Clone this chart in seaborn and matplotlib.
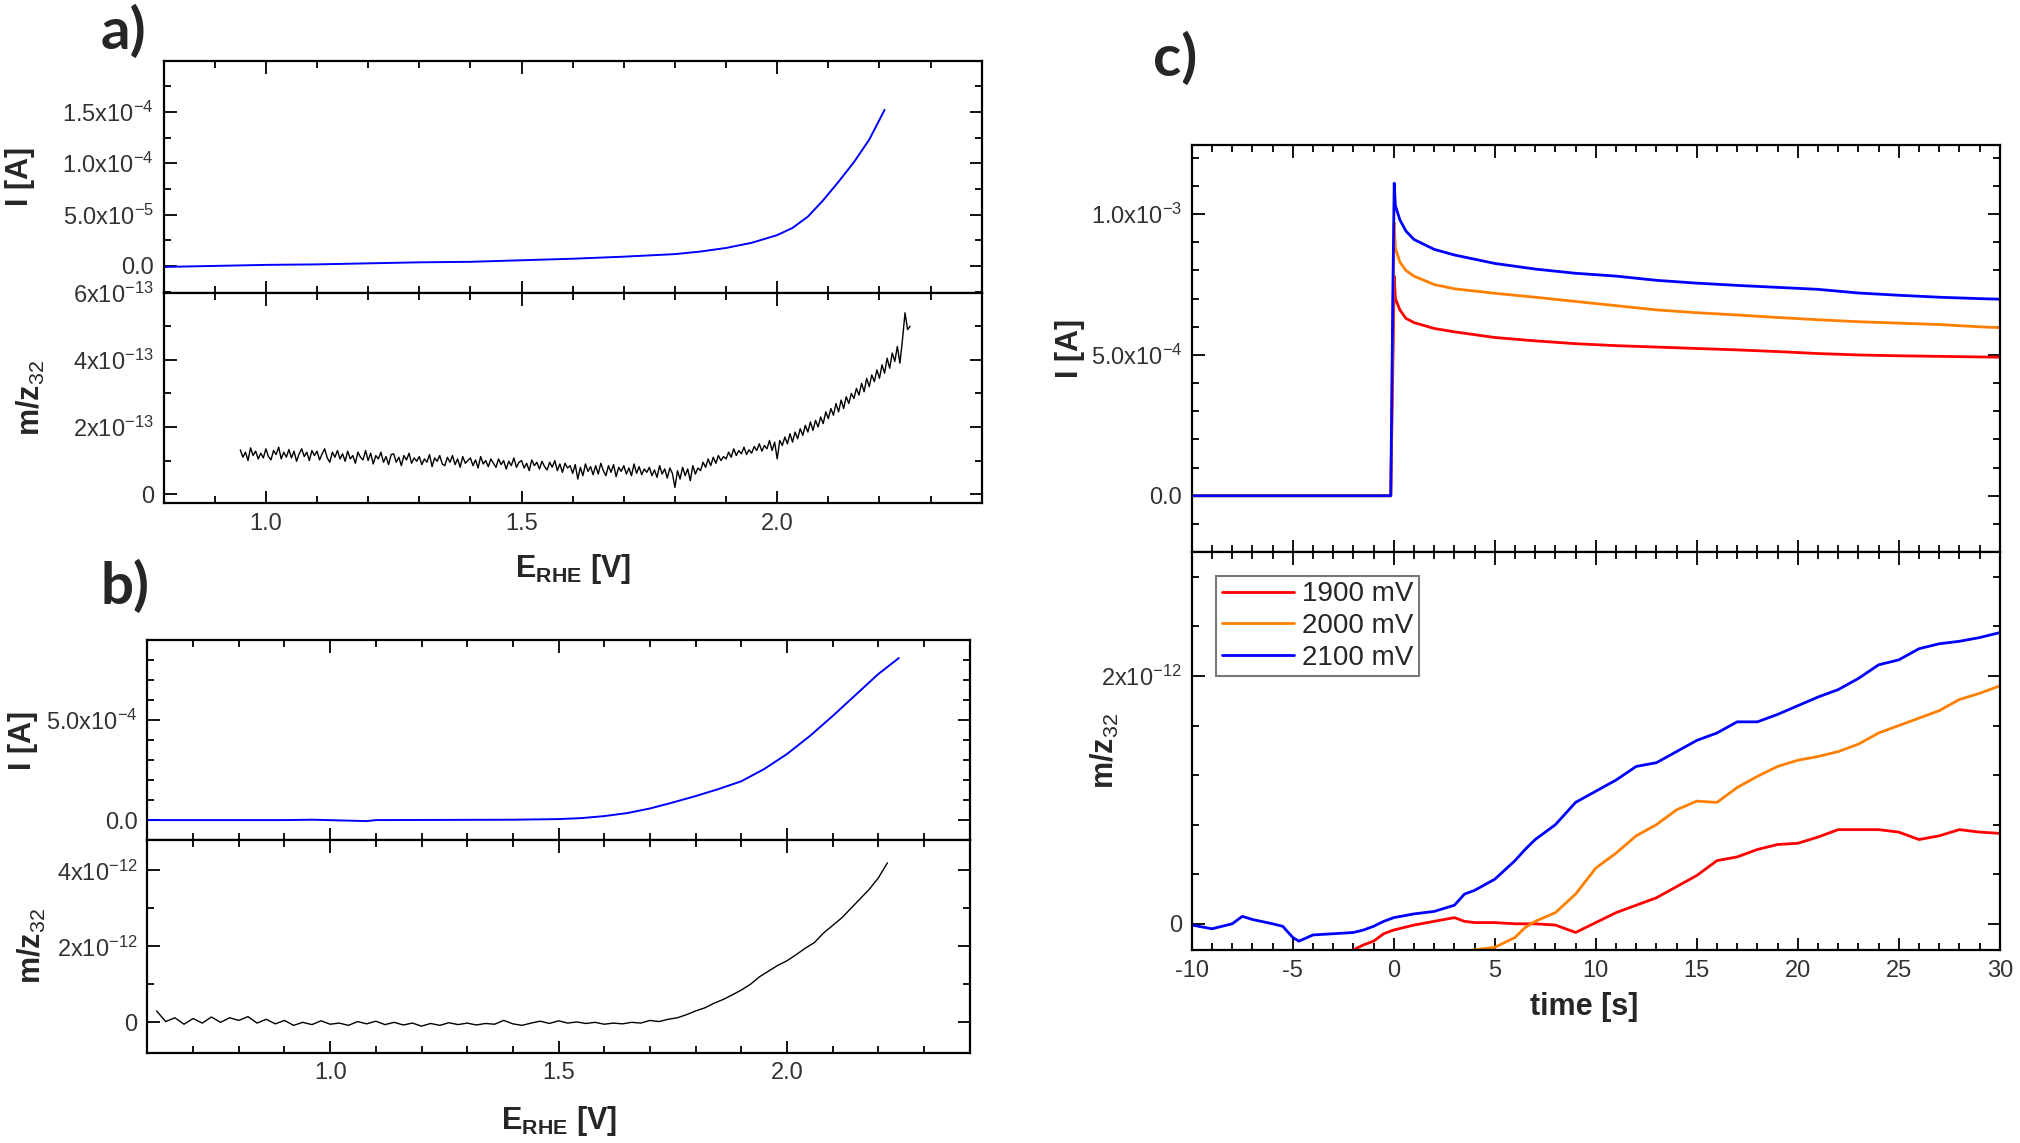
import numpy as np
import pandas as pd
import matplotlib
matplotlib.use("Agg")
import matplotlib.pyplot as plt
import matplotlib.ticker as mticker
import seaborn as sns

# ---------------- panel a ----------------
# current vs potential (I in 1e-5 A)
a_E = [0.80, 0.90, 1.00, 1.10, 1.20, 1.30, 1.40, 1.50, 1.60, 1.70, 1.80, 1.85,
       1.90, 1.95, 2.00, 2.03, 2.06, 2.09, 2.12, 2.15, 2.18, 2.21]
a_I = [-0.1, 0.0, 0.1, 0.15, 0.25, 0.35, 0.4, 0.55, 0.7, 0.9, 1.15, 1.4,
       1.75, 2.25, 3.0, 3.7, 4.8, 6.4, 8.2, 10.1, 12.3, 15.2]
# m/z 32 signal (in 1e-13), read every 5 mV from 0.95 V to 2.26 V
a_mz = [1.32, 1.10, 1.25, 1.00, 1.38, 1.15, 1.28, 1.05, 1.22, 1.08,
        1.35, 1.12, 1.02, 1.30, 1.18, 1.40, 1.05, 1.25, 1.10, 1.33,
        1.08, 1.28, 0.98, 1.20, 1.35, 1.12, 1.25, 1.00, 1.30, 1.15,
        1.28, 1.02, 1.20, 1.35, 1.08, 0.95, 1.25, 1.10, 1.30, 1.05,
        1.20, 0.98, 1.28, 1.05, 1.15, 0.92, 1.25, 1.10, 1.02, 1.30,
        1.00, 1.22, 0.90, 1.15, 1.05, 1.25, 0.95, 1.12, 0.88, 1.18,
        1.20, 0.95, 1.10, 0.85, 1.15, 1.02, 1.22, 0.92, 1.08, 0.98,
        1.12, 0.88, 1.05, 0.95, 1.18, 0.82, 1.08, 0.98, 1.15, 0.90,
        0.85, 1.10, 0.95, 1.15, 0.88, 1.05, 0.80, 1.12, 0.92, 1.00,
        1.08, 0.85, 1.02, 0.78, 1.12, 0.90, 1.00, 0.82, 1.05, 0.92,
        0.80, 1.05, 0.88, 1.00, 0.75, 0.98, 0.85, 1.08, 0.80, 0.95,
        1.00, 0.78, 0.92, 0.70, 1.02, 0.85, 0.95, 0.75, 0.98, 0.82,
        0.72, 0.95, 0.80, 1.00, 0.70, 0.90, 0.65, 0.92, 0.78, 0.85,
        0.62, 0.88, 0.45, 0.80, 0.55, 0.90, 0.68, 0.82, 0.58, 0.85,
        0.60, 0.92, 0.70, 0.55, 0.85, 0.65, 0.88, 0.52, 0.80, 0.68,
        0.85, 0.60, 0.78, 0.55, 0.90, 0.62, 0.82, 0.58, 0.75, 0.65,
        0.80, 0.55, 0.72, 0.50, 0.85, 0.60, 0.75, 0.48, 0.78, 0.62,
        0.20, 0.70, 0.45, 0.80, 0.55, 0.75, 0.40, 0.85, 0.60, 0.78,
        0.70, 0.95, 0.80, 1.05, 0.85, 1.10, 0.92, 1.15, 1.00, 1.12,
        1.05, 1.25, 1.10, 1.35, 1.15, 1.30, 1.20, 1.40, 1.18, 1.32,
        1.22, 1.42, 1.30, 1.50, 1.28, 1.45, 1.35, 1.60, 1.30, 1.55,
        1.05, 1.60, 1.45, 1.70, 1.50, 1.80, 1.55, 1.85, 1.65, 1.95,
        1.75, 2.05, 1.85, 2.15, 1.90, 2.20, 2.00, 2.30, 2.10, 2.45,
        2.25, 2.55, 2.35, 2.70, 2.45, 2.80, 2.55, 2.90, 2.70, 3.00,
        2.85, 3.15, 2.95, 3.30, 3.05, 3.45, 3.20, 3.55, 3.35, 3.70,
        3.45, 3.85, 3.60, 4.05, 3.75, 4.20, 3.95, 4.40, 3.90, 4.60,
        5.40, 4.90, 5.00]
a_mz_E = np.linspace(0.95, 0.95 + 0.005 * (len(a_mz) - 1), len(a_mz))

# ---------------- panel b ----------------
b_E = [0.60, 0.90, 0.96, 1.08, 1.10, 1.40, 1.50, 1.55, 1.60, 1.65, 1.70, 1.75,
       1.80, 1.85, 1.90, 1.95, 2.00, 2.05, 2.10, 2.15, 2.20, 2.245]
b_I = [0.0, 0.0, 0.02, -0.05, 0.0, 0.02, 0.05, 0.1, 0.2, 0.35, 0.58, 0.88,
       1.2, 1.55, 1.94, 2.55, 3.3, 4.2, 5.2, 6.25, 7.3, 8.1]   # 1e-4 A
# m/z 32 (in 1e-12), every 20 mV from 0.62 V to 2.22 V
b_mz = [0.30, 0.02, 0.12, -0.05, 0.10, -0.02, 0.14, 0.00, 0.12, 0.05,
        0.15, -0.02, 0.08, -0.04, 0.05, -0.08, 0.00, -0.06, 0.04, -0.05,
        -0.02, -0.08, 0.02, -0.04, 0.03, -0.06, 0.00, -0.07, -0.02, -0.10,
        -0.03, -0.08, -0.01, -0.06, -0.02, -0.07, -0.03, -0.05, 0.05, -0.04,
        -0.08, -0.02, 0.03, -0.03, 0.04, -0.02, 0.01, -0.03, 0.00, -0.05,
        -0.02, -0.04, 0.00, -0.02, 0.05, 0.02, 0.08, 0.12, 0.20, 0.30,
        0.38, 0.50, 0.60, 0.72, 0.85, 1.00, 1.20, 1.35, 1.50, 1.62,
        1.78, 1.95, 2.10, 2.35, 2.55, 2.75, 3.00, 3.25, 3.50, 3.80,
        4.20]
b_mz_E = np.linspace(0.62, 0.62 + 0.02 * (len(b_mz) - 1), len(b_mz))

# ---------------- panel c ----------------
labels_c = ["1900 mV", "2000 mV", "2100 mV"]
colors_c = ["#ff0000", "#ff8000", "#0000ff"]
c_t_I = [-10, -0.15, -0.05, 0.02, 0.08, 0.3, 0.6, 1, 2, 3, 5, 7, 9, 11, 13,
         15, 17, 19, 21, 23, 25, 27, 29, 30]
c_I_1900 = [0, 0, 4.5, 7.8, 7.0, 6.6, 6.3, 6.15, 5.94, 5.82, 5.62, 5.5, 5.4,
            5.33, 5.28, 5.23, 5.18, 5.12, 5.05, 5.0, 4.97, 4.95, 4.93, 4.92]
c_I_2000 = [0, 0, 6.0, 9.7, 8.8, 8.3, 8.0, 7.8, 7.5, 7.35, 7.19, 7.05, 6.9,
            6.75, 6.6, 6.5, 6.42, 6.33, 6.25, 6.18, 6.13, 6.08, 6.0, 5.97]
c_I_2100 = [0, 0, 7.0, 11.1, 10.3, 9.8, 9.4, 9.1, 8.75, 8.55, 8.25, 8.05, 7.9,
            7.8, 7.65, 7.55, 7.47, 7.4, 7.33, 7.2, 7.12, 7.05, 7.0, 6.98]  # 1e-4 A

c_t_mz = [-10, -9, -8, -7.5, -7, -6, -5.5, -5, -4.7, -4, -3, -2, -1.5, -1, -0.5,
          0, 1, 2, 3, 3.5, 4, 5, 6, 6.5, 7, 8, 9, 10, 11, 12, 13, 14, 15, 16,
          17, 18, 19, 20, 21, 22, 23, 24, 25, 26, 27, 28, 29, 30]
c_mz_1900 = [-0.35, -0.35, -0.35, -0.35, -0.35, -0.35, -0.35, -0.35, -0.35,
             -0.32, -0.28, -0.21, -0.17, -0.14, -0.08, -0.05, -0.01, 0.02,
             0.05, 0.02, 0.01, 0.01, 0.0, 0.0, 0.0, -0.01, -0.07, 0.01, 0.09,
             0.15, 0.21, 0.30, 0.39, 0.51, 0.54, 0.60, 0.64, 0.65, 0.70, 0.76,
             0.76, 0.76, 0.74, 0.68, 0.71, 0.76, 0.74, 0.73]
c_mz_2000 = [-0.22, -0.30, -0.32, -0.32, -0.33, -0.33, -0.33, -0.34, -0.34,
             -0.34, -0.33, -0.32, -0.32, -0.31, -0.30, -0.29, -0.28, -0.26,
             -0.24, -0.22, -0.21, -0.19, -0.11, -0.03, 0.02, 0.09, 0.24, 0.45,
             0.57, 0.71, 0.80, 0.92, 0.99, 0.98, 1.10, 1.19, 1.27, 1.32, 1.35,
             1.39, 1.45, 1.54, 1.60, 1.66, 1.72, 1.81, 1.86, 1.92]
c_mz_2100 = [-0.01, -0.04, 0.0, 0.06, 0.035, 0.0, -0.02, -0.11, -0.14, -0.09,
             -0.08, -0.07, -0.05, -0.02, 0.02, 0.05, 0.08, 0.10, 0.15, 0.24,
             0.27, 0.36, 0.51, 0.60, 0.68, 0.80, 0.98, 1.07, 1.16, 1.27, 1.30,
             1.39, 1.48, 1.54, 1.63, 1.63, 1.69, 1.76, 1.83, 1.89, 1.98, 2.09,
             2.13, 2.22, 2.26, 2.28, 2.31, 2.35]  # 1e-12

sns.set_style("ticks")
plt.rcParams["font.family"] = ["Liberation Sans", "DejaVu Sans"]
plt.rcParams["mathtext.fontset"] = "custom"
plt.rcParams["mathtext.rm"] = "Liberation Sans"
plt.rcParams["mathtext.bf"] = "Liberation Sans:bold"
plt.rcParams["mathtext.it"] = "Liberation Sans:italic"
plt.rcParams["axes.unicode_minus"] = False

fig = plt.figure(figsize=(20.2, 11.43), dpi=100)

TICK_FONT = ["Liberation Sans Narrow", "Liberation Sans"]


def sci(m, e):
    return m + r"x10$^{" + str(e) + "}$"


def style(ax, xlim, ylim, xmaj, xmin, yticks, ylabels, ymin, xlabels=True,
          narrow=True):
    ax.set_xlim(*xlim)
    ax.set_ylim(*ylim)
    ax.xaxis.set_major_locator(mticker.MultipleLocator(xmaj))
    ax.xaxis.set_minor_locator(mticker.MultipleLocator(xmin))
    ax.set_yticks(yticks)
    ax.set_yticklabels(ylabels)
    ax.yaxis.set_minor_locator(mticker.MultipleLocator(ymin))
    ax.tick_params(which="both", direction="in", top=True, right=True,
                   colors="black", labelcolor="#333333", width=1.3)
    ax.tick_params(which="major", length=9, labelsize=17, pad=7)
    ax.tick_params(which="minor", length=5)
    ax.tick_params(axis="x", labelbottom=xlabels)
    for lab in ax.get_xticklabels() + ax.get_yticklabels():
        lab.set_family(TICK_FONT if narrow else ["Liberation Sans"])
    for s in ax.spines.values():
        s.set_linewidth(1.6)
        s.set_color("black")
    ax.set_xlabel("")
    ax.set_ylabel("")


def xfmt(ax):
    ax.xaxis.set_major_formatter(mticker.FuncFormatter(lambda v, p: f"{v:.1f}"))
    for lab in ax.get_xticklabels():
        lab.set_family(TICK_FONT)


lab_kw = dict(fontsize=22, fontweight="bold")

# ---- panel a ----
ax_a1 = fig.add_axes([0.081, 0.744, 0.405, 0.203])
ax_a2 = fig.add_axes([0.081, 0.560, 0.405, 0.184])
sns.lineplot(x=a_E, y=np.array(a_I) * 1e-5, ax=ax_a1, color="#0000ff",
             linewidth=1.4, estimator=None)
sns.lineplot(x=a_mz_E, y=np.array(a_mz) * 1e-13, ax=ax_a2, color="black",
             linewidth=1.0, estimator=None)
style(ax_a1, (0.8, 2.4), (-2.6e-5, 2.0e-4), 0.5, 0.1,
      [0, 5e-5, 1e-4, 1.5e-4], ["0.0", sci("5.0", -5), sci("1.0", -4), sci("1.5", -4)],
      2.5e-5, xlabels=False)
style(ax_a2, (0.8, 2.4), (-0.26e-13, 6e-13), 0.5, 0.1,
      [0, 2e-13, 4e-13, 6e-13], ["0", sci("2", -13), sci("4", -13), sci("6", -13)],
      1e-13)
xfmt(ax_a2)
ax_a1.set_ylabel("I [A]", **lab_kw)
ax_a1.yaxis.set_label_coords(-0.157, 0.5)
ax_a2.set_ylabel(r"m/z$_{32}$", **lab_kw)
ax_a2.yaxis.set_label_coords(-0.142, 0.5)
ax_a2.set_xlabel(r"E$_{\mathbf{RHE}}$ [V]", **lab_kw)
ax_a2.xaxis.set_label_coords(0.5, -0.233)

# ---- panel b ----
ax_b1 = fig.add_axes([0.073, 0.265, 0.407, 0.175])
ax_b2 = fig.add_axes([0.073, 0.079, 0.407, 0.186])
sns.lineplot(x=b_E, y=np.array(b_I) * 1e-4, ax=ax_b1, color="#0000ff",
             linewidth=1.4, estimator=None)
sns.lineplot(x=b_mz_E, y=np.array(b_mz) * 1e-12, ax=ax_b2, color="black",
             linewidth=1.0, estimator=None)
style(ax_b1, (0.6, 2.4), (-1e-4, 9e-4), 0.5, 0.1,
      [0, 5e-4], ["0.0", sci("5.0", -4)], 1e-4, xlabels=False)
style(ax_b2, (0.6, 2.4), (-0.8e-12, 4.8e-12), 0.5, 0.1,
      [0, 2e-12, 4e-12], ["0", sci("2", -12), sci("4", -12)], 1e-12)
xfmt(ax_b2)
ax_b1.set_ylabel("I [A]", **lab_kw)
ax_b1.yaxis.set_label_coords(-0.133, 0.5)
ax_b2.set_ylabel(r"m/z$_{32}$", **lab_kw)
ax_b2.yaxis.set_label_coords(-0.121, 0.5)
ax_b2.set_xlabel(r"E$_{\mathbf{RHE}}$ [V]", **lab_kw)
ax_b2.xaxis.set_label_coords(0.5, -0.24)

# ---- panel c ----
ax_c1 = fig.add_axes([0.590, 0.517, 0.400, 0.356])
ax_c2 = fig.add_axes([0.590, 0.169, 0.400, 0.348])
df_cI = pd.DataFrame({
    "t": c_t_I * 3,
    "I": np.concatenate([c_I_1900, c_I_2000, c_I_2100]) * 1e-4,
    "series": np.repeat(labels_c, len(c_t_I)),
})
df_cmz = pd.DataFrame({
    "t": c_t_mz * 3,
    "mz": np.concatenate([c_mz_1900, c_mz_2000, c_mz_2100]) * 1e-12,
    "series": np.repeat(labels_c, len(c_t_mz)),
})
pal = dict(zip(labels_c, colors_c))
sns.lineplot(data=df_cI, x="t", y="I", hue="series", palette=pal, ax=ax_c1,
             linewidth=2.0, estimator=None, legend=False)
sns.lineplot(data=df_cmz, x="t", y="mz", hue="series", palette=pal, ax=ax_c2,
             linewidth=2.0, estimator=None)
style(ax_c1, (-10, 30), (-2e-4, 1.245e-3), 5, 1,
      [0, 5e-4, 1e-3], ["0.0", sci("5.0", -4), sci("1.0", -3)], 1e-4,
      xlabels=False, narrow=False)
style(ax_c2, (-10, 30), (-0.21e-12, 3.0e-12), 5, 1,
      [0, 2e-12], ["0", sci("2", -12)], 0.4e-12, narrow=False)
ax_c1.set_ylabel("I [A]", **lab_kw)
ax_c1.yaxis.set_label_coords(-0.132, 0.5)
ax_c2.set_ylabel(r"m/z$_{32}$", **lab_kw)
ax_c2.yaxis.set_label_coords(-0.088, 0.5)
ax_c2.set_xlabel("time [s]", **lab_kw)
ax_c2.xaxis.set_label_coords(0.486, -0.107)
leg = ax_c2.legend(loc="upper left", bbox_to_anchor=(0.03, 0.94), fontsize=20,
                   frameon=True, fancybox=False, handlelength=2.6,
                   borderpad=0.2, labelspacing=0.2, handletextpad=0.3,
                   borderaxespad=0)
leg.get_frame().set_edgecolor("#555555")
leg.get_frame().set_linewidth(1.5)

# panel letters
for x, y, t in [(0.050, 0.972, "a)"), (0.050, 0.487, "b)"), (0.571, 0.949, "c)")]:
    fig.text(x, y, t, fontsize=42, fontweight="bold", family=["Lato", "Liberation Sans"],
             va="center", ha="left")

fig.savefig("out.png", dpi=100)
